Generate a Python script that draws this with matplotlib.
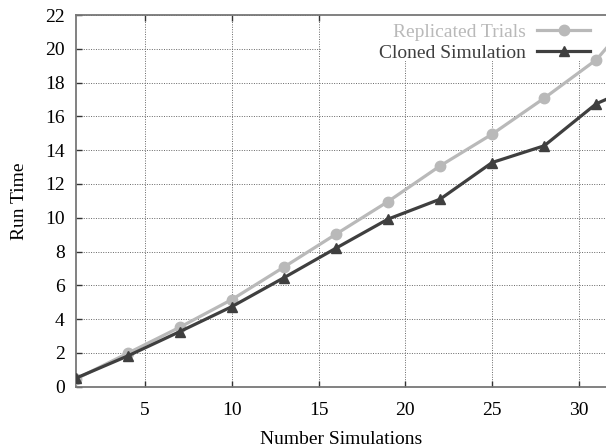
import numpy as np
import matplotlib.pyplot as plt
from matplotlib.patches import Rectangle

# data (last point lies past the cropped right edge)
num_sims = [1, 4, 7, 10, 13, 16, 19, 22, 25, 28, 31, 34]
replicated = [0.45, 1.98, 3.52, 5.16, 7.08, 9.03, 10.96, 13.07, 14.95, 17.08, 19.35, 22.9]
cloned = [0.5, 1.82, 3.26, 4.74, 6.45, 8.2, 9.92, 11.1, 13.27, 14.26, 16.75, 18.1]

x_ticks = [5, 10, 15, 20, 25, 30]
y_ticks = list(range(0, 23, 2))

light = '#b9b9b9'
dark = '#3f3f3f'

plt.rcParams['font.family'] = ['Liberation Serif', 'DejaVu Serif']

fig = plt.figure(figsize=(6.06, 4.47), dpi=100)
ax = fig.add_axes([0.1249, 0.1349, 0.8751, 0.8315])

# gridlines, dotted
ax.grid(True, color='#666666', linestyle=(0, (1, 1.5)), linewidth=0.7)
ax.set_axisbelow(True)

# white box behind the key hides the grid there
ax.add_patch(Rectangle((0.4626, 0.876), 0.54, 0.13, transform=ax.transAxes,
                       facecolor='white', edgecolor='none', zorder=1.5))

ax.plot(num_sims, replicated, color=light, linewidth=2.3, marker='o',
        markersize=7.5, label='Replicated Trials', zorder=3)
ax.plot(num_sims, cloned, color=dark, linewidth=2.3, marker='^',
        markersize=7.5, label='Cloned Simulation', zorder=4)

ax.set_xlim(1, 31.56)
ax.set_ylim(0, 22)
ax.set_xticks(x_ticks)
ax.set_yticks(y_ticks)

for side in ['left', 'bottom', 'top']:
    ax.spines[side].set_color('#777777')
    ax.spines[side].set_linewidth(1.3)
ax.spines['right'].set_visible(False)

ax.tick_params(axis='both', direction='in', length=4, width=1, color='#333333',
               labelsize=14, top=True)
ax.tick_params(axis='x', pad=11)
ax.tick_params(axis='y', pad=8)

ax.set_xlabel('Number Simulations', fontsize=14, labelpad=9)
ax.set_ylabel('Run Time', fontsize=14, labelpad=12)

leg = ax.legend(loc='upper right', bbox_to_anchor=(0.9698, 0.978), frameon=False,
                markerfirst=False, fontsize=14, handlelength=2.7, handletextpad=0.6,
                labelspacing=0.16, borderpad=0, borderaxespad=0)
for txt, col in zip(leg.get_texts(), [light, dark]):
    txt.set_color(col)

plt.savefig('out.png', dpi=100)
